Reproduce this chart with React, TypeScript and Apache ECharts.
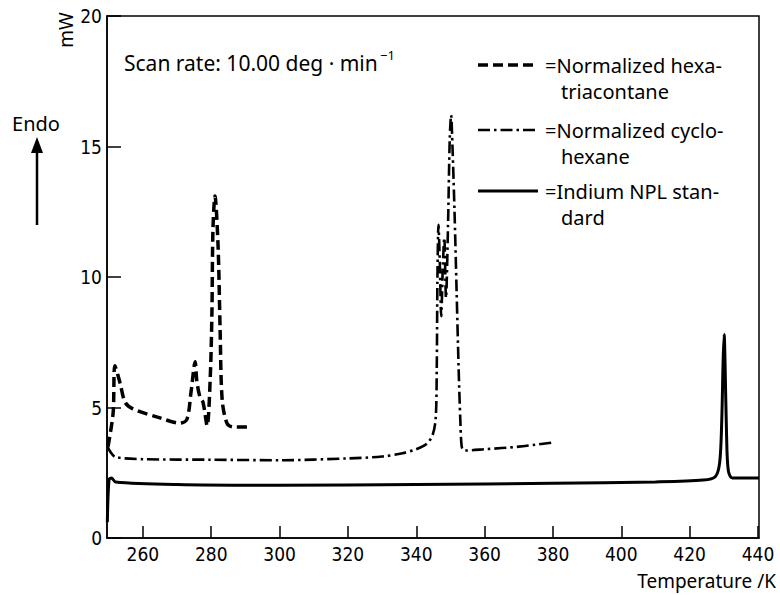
import React, { useEffect, useRef } from "react";
import * as echarts from "echarts";

// Temperature (K) / heat flow (mW)
const hexaT = [249.8, 251.3, 251.8, 253.3, 254.8, 257.1, 265.0, 270.9, 272.9, 274.1, 275.3, 275.8, 276.7, 277.6, 278.8, 279.7, 280.2, 280.5, 281.1, 282.0, 282.6, 283.2, 284.6, 286.4, 290.5];
const hexaP = [3.5, 4.8, 6.6, 5.95, 5.2, 4.95, 4.6, 4.4, 4.55, 5.6, 6.75, 6.0, 5.4, 5.2, 4.3, 6.1, 8.6, 11.8, 13.1, 11.2, 8.0, 5.3, 4.4, 4.25, 4.25];

const cycloT = [249.7, 250.5, 252, 260, 280, 300, 320, 330, 336, 340, 343, 344.8, 345.7, 346.0, 346.2, 346.5, 346.9, 347.3, 347.8, 348.2, 348.7, 349.3, 349.8, 350.2, 350.6, 351.2, 351.8, 352.4, 352.9, 353.3, 354, 360, 370, 379.5];
const cycloP = [3.5, 3.3, 3.1, 3.02, 3.0, 2.98, 3.05, 3.12, 3.25, 3.4, 3.6, 3.95, 4.6, 6.5, 10, 12.0, 10.5, 8.5, 10.5, 11.5, 9.2, 12, 15.3, 16.2, 15, 12.5, 9.5, 6.5, 4.5, 3.5, 3.35, 3.4, 3.5, 3.65];

const indiumT = [249.6, 250.1, 250.8, 252, 270, 300, 340, 380, 410, 424, 427.5, 428.8, 429.4, 429.8, 430.1, 430.4, 430.8, 431.3, 432.5, 440.3];
const indiumP = [0.6, 2.25, 2.3, 2.15, 2.05, 2.02, 2.05, 2.1, 2.15, 2.22, 2.35, 2.9, 4.5, 6.8, 7.8, 6.5, 4.0, 2.6, 2.3, 2.3];

const xTicks = [260, 280, 300, 320, 340, 360, 380, 400, 420, 440];
const yTicks = [0, 5, 10, 15, 20];

const legendLines = [
  ["=Normalized hexa-", "triacontane"],
  ["=Normalized cyclo-", "hexane"],
  ["=Indium NPL stan-", "dard"],
];

const FONT = "'Liberation Sans Narrow', 'DejaVu Sans Condensed', 'Noto Sans', sans-serif";
const TFONT = "'Noto Sans', 'DejaVu Sans', sans-serif";

const zip = (a: number[], b: number[]) => a.map((v, i) => [v, b[i]]);

export default function App() {
  const ref = useRef<HTMLDivElement>(null);
  useEffect(() => {
    document.body.style.margin = "0";
    if (!ref.current) return;
    const chart = echarts.init(ref.current, undefined, { renderer: "svg" });
    const dashes: (number[] | string)[] = [[10, 5], [12, 4, 2.5, 4], "solid"];
    const widths = [3.5, 2.6, 3];
    const legendY = [65, 130, 191];
    const graphics: any[] = [];
    legendY.forEach((y, i) => {
      graphics.push({
        type: "line",
        shape: { x1: 478, y1: y, x2: 538, y2: y },
        style: { stroke: "#000", lineWidth: widths[i], lineDash: dashes[i] === "solid" ? null : dashes[i] },
      });
      graphics.push({
        type: "text",
        x: 545,
        y: y,
        style: { text: legendLines[i][0], font: `20px ${TFONT}`, fill: "#000", textVerticalAlign: "middle" },
      });
      graphics.push({
        type: "text",
        x: 561,
        y: y + 26,
        style: { text: legendLines[i][1], font: `20px ${TFONT}`, fill: "#000", textVerticalAlign: "middle" },
      });
    });
    graphics.push(
      {
        type: "text",
        x: 124,
        y: 63,
        style: { text: "Scan rate: 10.00 deg · min", font: `21px ${TFONT}`, fill: "#000", textVerticalAlign: "middle" },
      },
      {
        type: "text",
        x: 380,
        y: 55,
        style: { text: "−1", font: `13px ${TFONT}`, fill: "#000", textVerticalAlign: "middle" },
      },
      {
        type: "text",
        x: 66,
        y: 30,
        rotation: Math.PI / 2,
        style: { text: "mW", font: `19px ${TFONT}`, fill: "#000", textAlign: "center", textVerticalAlign: "middle" },
      },
      {
        type: "text",
        x: 36,
        y: 123,
        style: { text: "Endo", font: `20px ${TFONT}`, fill: "#000", textAlign: "center", textVerticalAlign: "middle" },
      },
      {
        type: "line",
        shape: { x1: 37, y1: 225, x2: 37, y2: 150 },
        style: { stroke: "#000", lineWidth: 2.5 },
      },
      {
        type: "polygon",
        shape: { points: [[31, 153], [37, 137], [43, 153]] },
        style: { fill: "#000" },
      },
      {
        type: "text",
        x: 776,
        y: 581,
        style: { text: "Temperature /K", font: `19px ${TFONT}`, fill: "#000", textAlign: "right", textVerticalAlign: "middle" },
      }
    );

    const mk = (name: string, t: number[], p: number[], i: number) => ({
      name,
      type: "line",
      data: zip(t, p),
      showSymbol: false,
      symbol: "none",
      smooth: 0.3,
      lineStyle: { color: "#000", width: widths[i], type: dashes[i] as any },
      z: 3,
    });

    chart.setOption({
      animation: false,
      backgroundColor: "#fff",
      grid: { left: 107, right: 21, top: 16, bottom: 57, show: true, borderColor: "#000", borderWidth: 1.5 },
      xAxis: {
        type: "value",
        min: 249.5,
        max: 440.3,
        axisLine: { show: true, lineStyle: { color: "#000", width: 1.5 } },
        axisTick: { show: true, inside: true, length: 12, customValues: xTicks, lineStyle: { color: "#000", width: 1.5 } },
        axisLabel: { customValues: xTicks, color: "#000", fontSize: 19, fontFamily: FONT, margin: 6 },
        splitLine: { show: false },
      },
      yAxis: {
        type: "value",
        min: 0,
        max: 20,
        axisLine: { show: true, lineStyle: { color: "#000", width: 1.5 } },
        axisTick: { show: true, inside: true, length: 14, customValues: yTicks, lineStyle: { color: "#000", width: 1.5 } },
        axisLabel: { customValues: yTicks, color: "#000", fontSize: 19, fontFamily: FONT, margin: 5 },
        splitLine: { show: false },
      },
      series: [
        mk("hexatriacontane", hexaT, hexaP, 0),
        mk("cyclohexane", cycloT, cycloP, 1),
        mk("indium", indiumT, indiumP, 2),
      ],
      graphic: graphics,
    });
    return () => chart.dispose();
  }, []);
  return <div ref={ref} style={{ width: 780, height: 595 }} />;
}
